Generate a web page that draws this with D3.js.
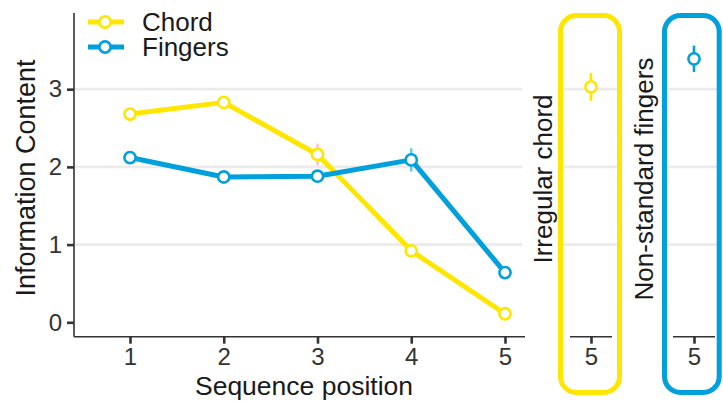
<!DOCTYPE html>
<html>
<head>
<meta charset="utf-8">
<script src="https://cdn.jsdelivr.net/npm/d3@7"></script>
<style>
html,body{margin:0;padding:0;background:#fff;}
svg{display:block;font-family:"Liberation Sans",Arial,Helvetica,sans-serif;}
</style>
</head>
<body>
<svg id="chart" width="723" height="402"></svg>
<script>
// ---- data ----
const positions = [1, 2, 3, 4, 5];
const chordValues = [2.68, 2.83, 2.16, 0.92, 0.11];
const chordErrors = [0.05, 0.05, 0.14, 0.06, 0.05];
const fingersValues = [2.12, 1.87, 1.88, 2.09, 0.64];
const fingersErrors = [0.05, 0.05, 0.05, 0.15, 0.05];
const seriesNames = ["Chord", "Fingers"];
const yTicks = [0, 1, 2, 3];
const gridTicks = [1, 2, 3];
const panelNames = ["Irregular chord", "Non-standard fingers"];
const panelPosition = [5, 5];
const panelValues = [3.03, 3.39];
const panelErrors = [0.18, 0.17];

const colors = {Chord: "#FFE600", Fingers: "#00A0DC"};
const errColors = {Chord: "rgba(240,150,170,0.55)", Fingers: "rgba(80,195,215,0.85)"};
const axisCol = "#333333";
const gridCol = "#ebebeb";
const tickFont = "24px";
const titleFont = "26.5px";

const svg = d3.select("#chart");

// ---- main panel scales ----
const x = d3.scaleLinear().domain([0.4027, 5.2133]).range([74, 525]);
const y = d3.scaleLinear().domain([-0.185, 3.98]).range([336.7, 13]);

// gridlines
svg.append("g").selectAll("line").data(gridTicks).join("line")
  .attr("x1", 74).attr("x2", 522)
  .attr("y1", d => y(d)).attr("y2", d => y(d))
  .attr("stroke", gridCol).attr("stroke-width", 2.6);

// axes
const yAxis = d3.axisLeft(y).tickValues(yTicks).tickSize(7).tickPadding(5).tickFormat(d3.format("d"));
const gy = svg.append("g").attr("transform", "translate(74,0)").call(yAxis);
const xAxis = d3.axisBottom(x).tickValues(positions).tickSize(7).tickPadding(4).tickFormat(d3.format("d"));
const gx = svg.append("g").attr("transform", "translate(0,336.7)").call(xAxis);
[gy, gx].forEach(g => {
  g.select(".domain").attr("stroke", axisCol).attr("stroke-width", 1.6);
  g.selectAll(".tick line").attr("stroke", axisCol).attr("stroke-width", 2.6);
  g.selectAll(".tick text").attr("fill", "#333").style("font-size", tickFont).style("font-family", "Liberation Sans, Arial, sans-serif");
});
gy.select(".domain").attr("d", "M0,13V336.7");
gx.select(".domain").attr("d", "M74,0H525");

// axis titles
svg.append("text").attr("x", 304).attr("y", 395).attr("text-anchor", "middle")
  .style("font-size", titleFont).attr("fill", "#1a1a1a").text("Sequence position");
svg.append("text").attr("transform", "translate(35,178) rotate(-90)").attr("text-anchor", "middle")
  .style("font-size", "27px").attr("fill", "#1a1a1a").text("Information Content");

// series
const series = [
  {name: "Chord", values: chordValues, errors: chordErrors},
  {name: "Fingers", values: fingersValues, errors: fingersErrors}
];
const line = d3.line().x((d, i) => x(positions[i])).y(d => y(d));

series.forEach(s => {
  svg.append("path").datum(s.values).attr("d", line)
    .attr("fill", "none").attr("stroke", colors[s.name]).attr("stroke-width", 5)
    .attr("stroke-linejoin", "round");
});
series.forEach(s => {
  svg.append("g").selectAll("line").data(s.values).join("line")
    .attr("x1", (d, i) => x(positions[i])).attr("x2", (d, i) => x(positions[i]))
    .attr("y1", (d, i) => y(d - s.errors[i])).attr("y2", (d, i) => y(d + s.errors[i]))
    .attr("stroke", errColors[s.name]).attr("stroke-width", 2.5);
});
series.forEach(s => {
  svg.append("g").selectAll("circle").data(s.values).join("circle")
    .attr("cx", (d, i) => x(positions[i])).attr("cy", d => y(d)).attr("r", 5.6)
    .attr("fill", "#fff").attr("stroke", colors[s.name]).attr("stroke-width", 2.6);
});

// legend
const leg = svg.append("g");
seriesNames.forEach((n, i) => {
  const ly = 22 + i * 25;
  leg.append("line").attr("x1", 88).attr("x2", 124).attr("y1", ly).attr("y2", ly)
    .attr("stroke", colors[n]).attr("stroke-width", 5);
  leg.append("circle").attr("cx", 105).attr("cy", ly).attr("r", 5.6)
    .attr("fill", "#fff").attr("stroke", colors[n]).attr("stroke-width", 2.6);
  leg.append("text").attr("x", 142).attr("y", ly + 8.8).style("font-size", "26px")
    .attr("fill", "#1a1a1a").text(n);
});

// ---- side panels ----
const panels = [
  {name: panelNames[0], key: "Chord", left: 570, right: 612, gl: 563, gr: 620, box: [560.5, 619.5], strip: 551.5},
  {name: panelNames[1], key: "Fingers", left: 673, right: 715, gl: 667, gr: 720, box: [664.5, 719.2], strip: 652.5}
];
panels.forEach((p, k) => {
  const px = d3.scaleLinear().domain([4.5, 5.5]).range([p.left, p.right]);
  const g = svg.append("g");
  g.selectAll("line.grid").data(gridTicks).join("line").attr("class", "grid")
    .attr("x1", p.gl).attr("x2", p.gr).attr("y1", d => y(d)).attr("y2", d => y(d))
    .attr("stroke", gridCol).attr("stroke-width", 2.6);
  const ax = d3.axisBottom(px).tickValues([panelPosition[k]]).tickSize(7).tickPadding(4).tickFormat(d3.format("d"));
  const ga = g.append("g").attr("transform", "translate(0,336.7)").call(ax);
  ga.select(".domain").attr("stroke", axisCol).attr("stroke-width", 1.6).attr("d", `M${p.left},0H${p.right}`);
  ga.selectAll(".tick line").attr("stroke", axisCol).attr("stroke-width", 2.6);
  ga.selectAll(".tick text").attr("fill", "#333").style("font-size", tickFont).style("font-family", "Liberation Sans, Arial, sans-serif");
  const v = panelValues[k], e = panelErrors[k];
  g.append("line").attr("x1", px(panelPosition[k])).attr("x2", px(panelPosition[k]))
    .attr("y1", y(v - e)).attr("y2", y(v + e)).attr("stroke", colors[p.key]).attr("stroke-width", 2.6);
  g.append("circle").attr("cx", px(panelPosition[k])).attr("cy", y(v)).attr("r", 5.6)
    .attr("fill", "#fff").attr("stroke", colors[p.key]).attr("stroke-width", 2.6);
  g.append("rect").attr("x", p.box[0]).attr("y", 15.5).attr("width", p.box[1] - p.box[0]).attr("height", 377)
    .attr("rx", 16).attr("ry", 16).attr("fill", "none").attr("stroke", colors[p.key]).attr("stroke-width", 5);
  svg.append("text").attr("transform", `translate(${p.strip},179) rotate(-90)`).attr("text-anchor", "middle")
    .style("font-size", "26px").attr("fill", "#1a1a1a").text(p.name);
});
</script>
</body>
</html>
